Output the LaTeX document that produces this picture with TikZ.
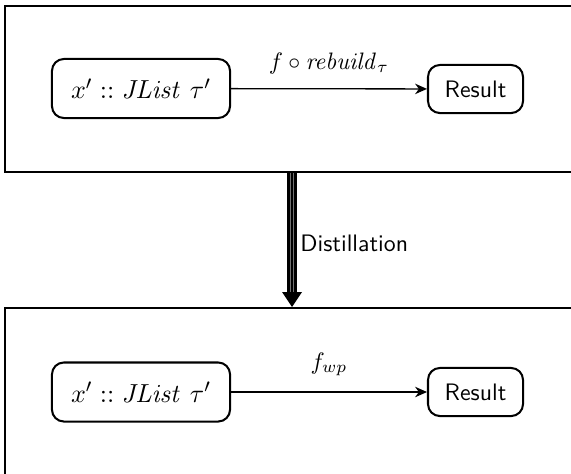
\documentclass[tikz,border=0pt]{standalone}
\usetikzlibrary{arrows.meta,positioning}
\begin{document}
\begin{tikzpicture}[x=0.42pt,y=-0.42pt,
  panel/.style={draw=black,line width=0.85pt,inner sep=0pt},
  mathbox/.style={draw=black,line width=0.85pt,rounded corners=5pt,minimum width=74.8pt,minimum height=24.8pt,inner sep=0pt,font=\fontsize{11}{13}\selectfont},
  resbox/.style={draw=black,line width=0.85pt,rounded corners=5pt,minimum width=39.9pt,minimum height=20.2pt,inner sep=0pt,font=\sffamily},
  conn/.style={line width=0.55pt,-{Stealth[length=5pt,width=4.4pt,inset=1.6pt]}},
  lbl/.style={inner sep=0pt}
]
\useasboundingbox (0,0) rectangle (571,473);
% panels (extend beyond the page edges)
\node[panel,minimum width=241.5pt,minimum height=69.7pt] (top) at (292.5,89) {};
\node[panel,minimum width=241.5pt,minimum height=71.4pt] (bot) at (292.5,393) {};
% top content
\node[mathbox] (src1) at (141,88.5) {$x' :: \mathit{JList}\ \tau'$};
\node[resbox] (res1) at (475.5,89) {Result};
\draw[conn] (src1) -- node[lbl,above=6pt] {$f \circ \mathit{rebuild}_{\tau}$} (res1);
% bottom content
\node[mathbox] (src2) at (141,392) {$x' :: \mathit{JList}\ \tau'$};
\node[resbox] (res2) at (475.5,392) {Result};
\draw[conn] (src2) -- node[lbl,above=6.5pt] {$f_{wp}$} (res2);
% distillation arrow
\coordinate (ds) at (top.south -| 292,0);
\coordinate (dt) at (bot.north -| 292,0);
\coordinate (dh) at ([yshift=6.3pt]dt);
\draw[line width=4.2pt,black] (ds) -- (dh);
\draw[line width=0.45pt,black!55] ([xshift=-0.75pt]ds) -- ([xshift=-0.75pt]dh);
\draw[line width=0.45pt,black!55] ([xshift=0.75pt]ds) -- ([xshift=0.75pt]dh);
\fill[black] ([xshift=-4.2pt]dh) -- ([xshift=4.2pt]dh) -- (dt) -- cycle;
\node[lbl,font=\sffamily,anchor=west] (dl) at (300,243) {Distillation};
\end{tikzpicture}
\end{document}
